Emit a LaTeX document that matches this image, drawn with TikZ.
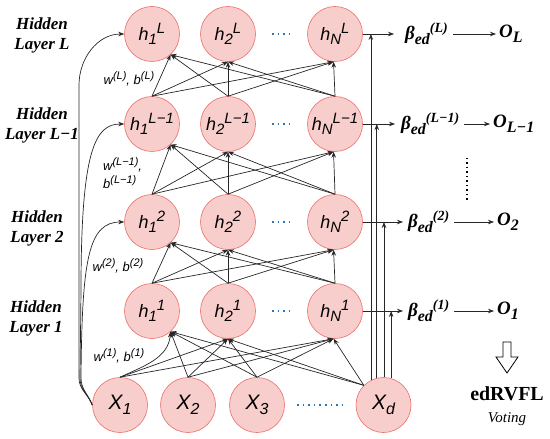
\documentclass[tikz,border=0pt]{standalone}
\usepackage{fontspec}
\setmainfont{Liberation Serif}
\setsansfont{Liberation Sans}
\usetikzlibrary{arrows.meta,calc}
\definecolor{nfill}{RGB}{248,206,204}
\definecolor{nline}{RGB}{234,110,104}
\definecolor{dotblue}{RGB}{46,117,182}
\newcommand\shifted[3]{\raisebox{#2}{\fontsize{#1}{#1}\selectfont #3}}
\begin{document}
\begin{tikzpicture}[x=1bp,y=1bp,
  neur/.style={circle, minimum size=55bp, inner sep=0pt, fill=nfill, draw=nline, line width=0.6bp,
    font=\sffamily\itshape\fontsize{18}{18}\selectfont},
  xnode/.style={neur, font=\sffamily\itshape\fontsize{21}{21}\selectfont},
  arr/.style={-{Stealth[length=6bp,width=4.5bp]}, line width=0.7bp, draw=black!85},
  bdots/.style={draw=dotblue, line width=1.6bp, dash pattern=on 1.6bp off 4bp},
  kdots/.style={draw=black, line width=1.3bp, dash pattern=on 1.3bp off 3.2bp},
  lay/.style={align=center, inner sep=0pt, font=\bfseries\itshape\fontsize{17}{20}\selectfont},
  wl/.style={inner sep=0pt, font=\sffamily\itshape\fontsize{13}{18}\selectfont},
  betal/.style={inner sep=0pt, font=\bfseries\itshape\fontsize{19}{19}\selectfont}]
\path[use as bounding box] (0,0) rectangle (550,-439);

% hidden layers
\foreach \lay/\y/\s in {a/311/1, b/222/2, c/124/L−1, d/34/L} {
  \node[neur] (h1\lay) at (152,-\y) {h\shifted{15}{-4bp}{1}\shifted{15}{7bp}{\s}};
  \node[neur] (h2\lay) at (228,-\y) {h\shifted{15}{-4bp}{2}\shifted{15}{7bp}{\s}};
  \node[neur] (hN\lay) at (335,-\y) {h\shifted{15}{-4bp}{N}\shifted{15}{7bp}{\s}};
  \draw[bdots] (272,-\y) -- (292,-\y);
}

% inputs
\node[xnode] (x1) at (120,-405) {X\shifted{16}{-5bp}{1}};
\node[xnode] (x2) at (188,-405) {X\shifted{16}{-5bp}{2}};
\node[xnode] (x3) at (257,-405) {X\shifted{16}{-5bp}{3}};
\node[xnode] (xd) at (383.5,-405) {X\shifted{16}{-5bp}{d}};
\draw[bdots] (297,-405) -- (343,-405);

% hidden to hidden
\foreach \lay/\nxt in {a/b, b/c, c/d} {
  \foreach \s in {1,2,N} {
    \draw[arr] (h\s\lay.north) -- (h1\nxt.-48);
    \draw[arr] (h\s\lay.north) -- (h2\nxt.south);
    \draw[arr] (h\s\lay.north) -- (hN\nxt.-93);
  }
}

% input to first hidden layer
\draw[arr] (x1.north) to[out=25,in=-95] (h1a.-48);
\draw[arr] (x1.north) -- (h2a.south);
\draw[arr] (x1.north) -- (hNa.-93);
\foreach \s in {x2,x3} {
  \draw[arr] (\s.north) -- (h1a.-48);
  \draw[arr] (\s.north) -- (h2a.south);
  \draw[arr] (\s.north) -- (hNa.-93);
}
\draw[arr] (xd.135) -- (h1a.-48);
\draw[arr] (xd.135) -- (h2a.south);
\draw[arr] (xd.135) -- (hNa.-93);

% left direct links
\draw[arr] (x1.west) to[out=110,in=-90] (79,-378) -- (79,-85) to[out=90,in=180] (h1d.west);
\draw[arr] (x1.west) to[out=110,in=-90] (80,-378) -- (81,-290) .. controls (81,-150) and (95,-124) .. (h1c.west);
\draw[arr] (x1.west) to[out=110,in=-90] (81,-378) .. controls (82,-260) and (88,-222) .. (h1b.west);

% right direct links
\draw[arr] (xd.117) -- (xd.117 |- hNd.east);
\draw[arr] (xd.104) -- (xd.104 |- hNc.east);
\draw[arr] (xd.89) -- (xd.89 |- hNb.east);
\draw[arr] (xd.74) -- (xd.74 |- hNa.east);

% outputs
\node[betal, anchor=west] (Bd) at (405,-34) {β\shifted{16}{-5bp}{ed}\shifted{14}{7bp}{(L)}};
\node[betal, anchor=west] (Bc) at (401,-124) {β\shifted{16}{-5bp}{ed}\shifted{14}{7bp}{(L−1)}};
\node[betal, anchor=west] (Bb) at (408,-222) {β\shifted{16}{-5bp}{ed}\shifted{14}{7bp}{(2)}};
\node[betal, anchor=west] (Ba) at (408,-311) {β\shifted{16}{-5bp}{ed}\shifted{14}{7bp}{(1)}};
\draw[arr] (hNd.east) -- ([xshift=-11bp]Bd.west);
\draw[arr] (hNc.east) -- ([xshift=-6bp]Bc.west);
\draw[arr] (hNb.east) -- ([xshift=-5bp]Bb.west);
\draw[arr] (hNa.east) -- ([xshift=-5bp]Ba.west);

\node[betal, anchor=west] (Od) at (499,-34) {O\shifted{16}{-5bp}{L}};
\node[betal, anchor=west] (Oc) at (493,-124) {O\shifted{16}{-5bp}{L−1}};
\node[betal, anchor=west] (Ob) at (497,-222) {O\shifted{16}{-5bp}{2}};
\node[betal, anchor=west] (Oa) at (497,-311) {O\shifted{16}{-5bp}{1}};
\draw[arr] ([xshift=5bp]Bd.east) -- ([xshift=-3bp]Od.west);
\draw[arr] ([xshift=5bp]Bc.east) -- ([xshift=-3bp]Oc.west);
\draw[arr] ([xshift=5bp]Bb.east) -- ([xshift=-3bp]Ob.west);
\draw[arr] ([xshift=5bp]Ba.east) -- ([xshift=-3bp]Oa.west);

\draw[kdots] (467,-158) -- (467,-203);

% voting
\draw[line width=0.8bp] (503,-342) -- (511,-342) -- (511,-357) -- (518,-357) -- (507,-373) -- (496,-357) -- (503,-357) -- cycle;
\node[inner sep=0pt, font=\bfseries\fontsize{20}{20}\selectfont] (ens) at (507,-394) {edRVFL};
\node[inner sep=0pt, font=\itshape\fontsize{15}{15}\selectfont] (vote) at (507,-419) {Voting};

% layer labels
\node[lay] (tL) at (42,-35) {Hidden\\Layer L};
\node[lay] (tL1) at (42,-125) {Hidden\\Layer L−1};
\node[lay] (t2) at (37,-228) {Hidden\\Layer 2};
\node[lay] (t1) at (36,-318) {Hidden\\Layer 1};

% weight labels
\node[wl] (wd) at (129,-79) {w\shifted{11}{5bp}{(L)}, b\shifted{11}{5bp}{(L)}};
\node[wl, align=left, anchor=west] (wc) at (103,-173) {w\shifted{11}{5bp}{(L−1)},\\b\shifted{11}{5bp}{(L−1)}};
\node[wl] (wb) at (118,-266) {w\shifted{11}{5bp}{(2)}, b\shifted{11}{5bp}{(2)}};
\node[wl] (wa) at (119,-356) {w\shifted{11}{5bp}{(1)}, b\shifted{11}{5bp}{(1)}};
\end{tikzpicture}
\end{document}
